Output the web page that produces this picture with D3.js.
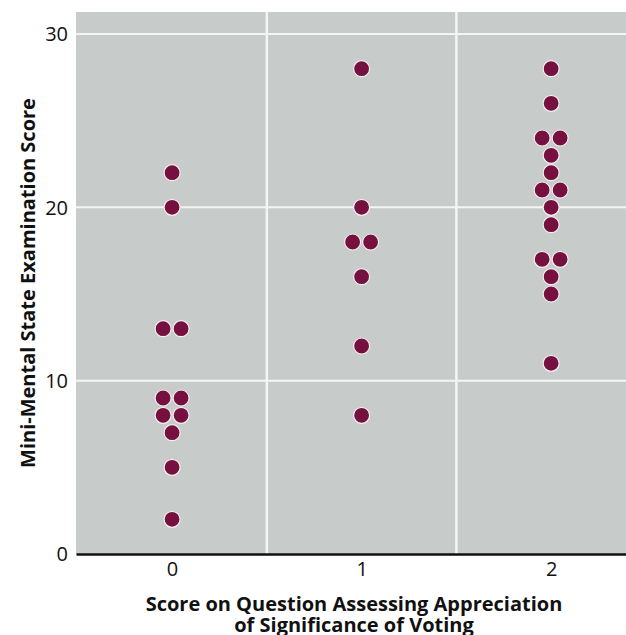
<!DOCTYPE html>
<html>
<head>
<meta charset="utf-8">
<script src="https://cdn.jsdelivr.net/npm/d3@7"></script>
<style>
  body { margin: 0; background: #fff; }
  text { font-family: "Open Sans", "Noto Sans", sans-serif; fill: #111; }
</style>
</head>
<body>
<svg id="chart" width="626" height="635"></svg>
<script>
// Score on voting question (0, 1, 2) and MMSE score; repeated values sit side by side
const group0 = [22, 20, 13, 13, 9, 9, 8, 8, 7, 5, 2];
const group1 = [28, 20, 18, 18, 16, 12, 8];
const group2 = [28, 26, 24, 24, 23, 22, 21, 21, 20, 19, 17, 17, 16, 15, 11];
const groups = [group0, group1, group2];
const xTicks = [0, 1, 2];
const yTicks = [0, 10, 20, 30];

const width = 626;
const height = 635;
const margin = { top: 12, right: 0, bottom: 81, left: 76 };

const svg = d3.select('#chart');

const x = d3.scaleLinear()
  .domain([-0.507, 2.395])
  .range([margin.left, width - margin.right]);

const y = d3.scaleLinear()
  .domain([0, 31.27])
  .range([height - margin.bottom, margin.top]);

// panel background
svg.append('rect')
  .attr('x', x(-0.507))
  .attr('y', y(31.27))
  .attr('width', x(2.395) - x(-0.507))
  .attr('height', y(0) - y(31.27))
  .attr('fill', '#c7cccb');

// white grid: horizontal at ticks, vertical between the categories
svg.append('g')
  .selectAll('line')
  .data(yTicks.filter(d => d > 0))
  .join('line')
  .attr('x1', x(-0.507))
  .attr('x2', x(2.395))
  .attr('y1', d => y(d))
  .attr('y2', d => y(d))
  .attr('stroke', '#f4f5f5')
  .attr('stroke-width', 2);

svg.append('g')
  .selectAll('line')
  .data([0.5, 1.5])
  .join('line')
  .attr('x1', d => x(d))
  .attr('x2', d => x(d))
  .attr('y1', y(31.27))
  .attr('y2', y(0))
  .attr('stroke', '#f4f5f5')
  .attr('stroke-width', 2.5);

// axes
const yAxis = svg.append('g')
  .attr('transform', `translate(${margin.left},0)`)
  .call(d3.axisLeft(y).tickValues(yTicks).tickSize(0).tickPadding(8));
yAxis.select('.domain').remove();
yAxis.selectAll('text')
  .style('font-size', '20px')
  .attr('dy', '0.34em');

const xAxis = svg.append('g')
  .attr('transform', `translate(0,${y(0)})`)
  .call(d3.axisBottom(x).tickValues(xTicks).tickFormat(d3.format('d')).tickSize(0).tickPadding(8));
xAxis.select('.domain')
  .attr('stroke', '#111')
  .attr('stroke-width', 2.5);
xAxis.selectAll('text')
  .style('font-size', '20px');

// dots
const pts = [];
groups.forEach((vals, gi) => {
  const counts = d3.rollup(vals, v => v.length, d => d);
  const seen = new Map();
  vals.forEach(v => {
    const n = counts.get(v);
    const k = seen.get(v) || 0;
    seen.set(v, k + 1);
    pts.push({ g: gi, v, off: (k - (n - 1) / 2) * 18 });
  });
});

svg.append('g')
  .selectAll('circle')
  .data(pts)
  .join('circle')
  .attr('cx', d => x(d.g) + d.off)
  .attr('cy', d => y(d.v))
  .attr('r', 8)
  .attr('fill', '#76113f')
  .attr('stroke', '#f3eef0')
  .attr('stroke-width', 1.2);

// axis titles
svg.append('text')
  .attr('x', 354)
  .attr('y', 611)
  .attr('text-anchor', 'middle')
  .style('font-size', '20px')
  .style('font-weight', 'bold')
  .text('Score on Question Assessing Appreciation');

svg.append('text')
  .attr('x', 354)
  .attr('y', 632)
  .attr('text-anchor', 'middle')
  .style('font-size', '20px')
  .style('font-weight', 'bold')
  .text('of Significance of Voting');

svg.append('text')
  .attr('transform', `translate(35,283) rotate(-90)`)
  .attr('text-anchor', 'middle')
  .style('font-size', '20px')
  .style('font-weight', 'bold')
  .text('Mini-Mental State Examination Score');
</script>
</body>
</html>
